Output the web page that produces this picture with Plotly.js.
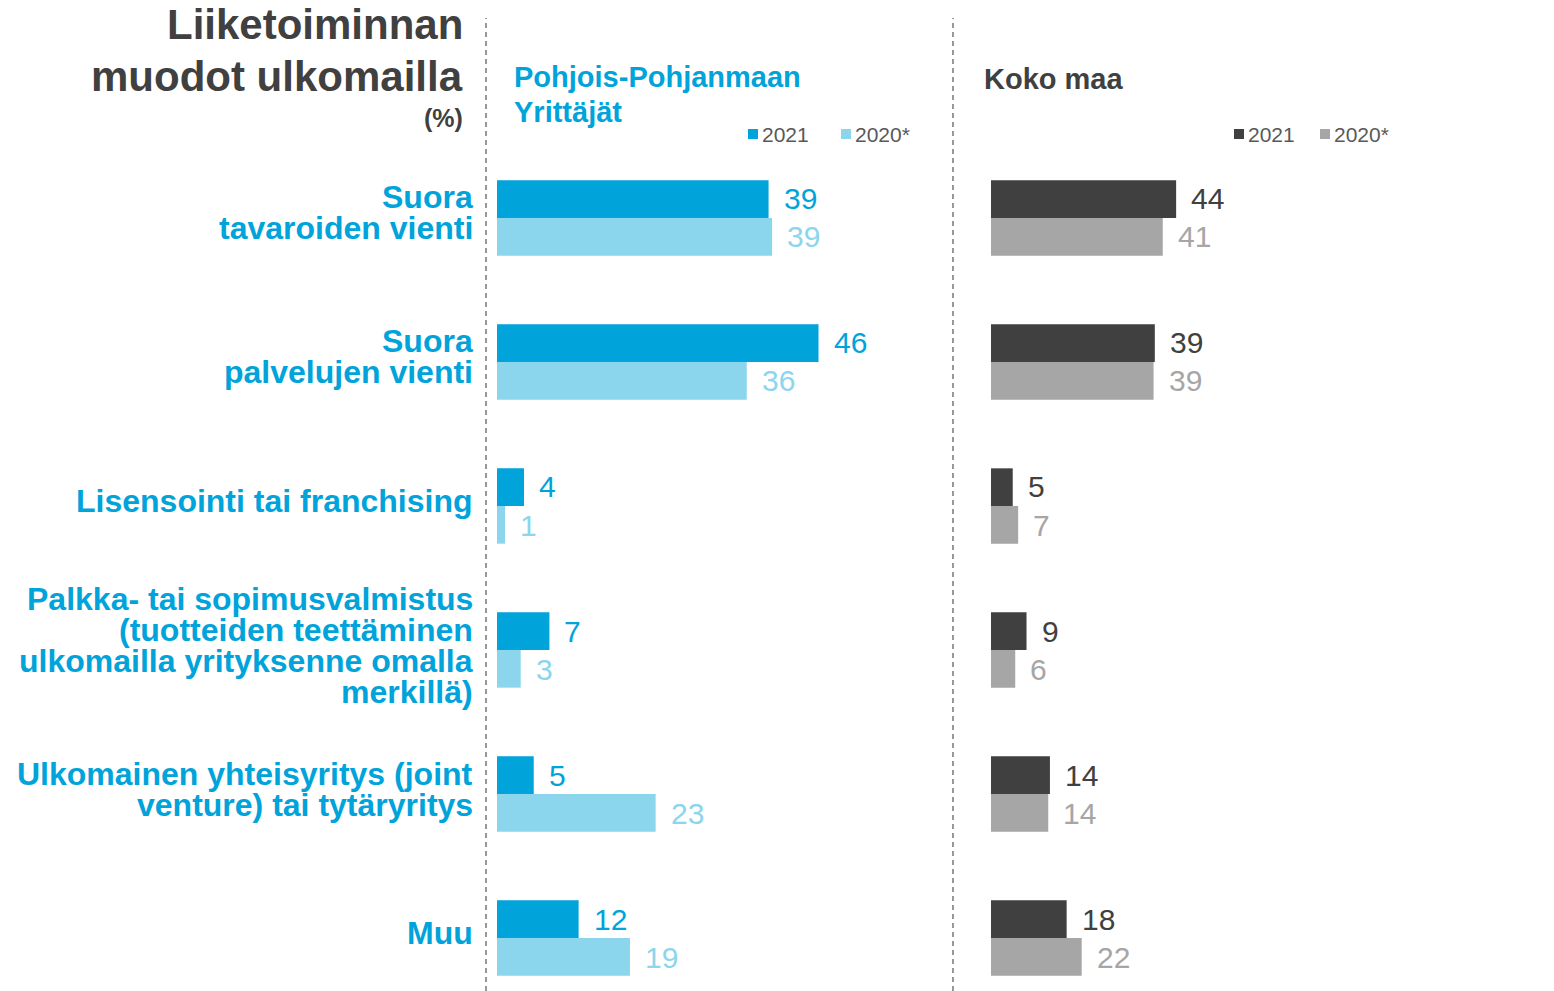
<!DOCTYPE html>
<html>
<head>
<meta charset="utf-8">
<script src="https://cdn.plot.ly/plotly-3.0.1.min.js"></script>
<style>html,body{margin:0;padding:0;background:#fff;}#chart{width:1554px;height:991px;}</style>
</head>
<body>
<div id="chart"></div>
<script>
// ---- data ----
const categories = [
  'Suora<br>tavaroiden vienti',
  'Suora<br>palvelujen vienti',
  'Lisensointi tai franchising',
  'Palkka- tai sopimusvalmistus<br>(tuotteiden teettäminen<br>ulkomailla yrityksenne omalla<br>merkillä)',
  'Ulkomainen yhteisyritys (joint<br>venture) tai tytäryritys',
  'Muu'
];
const seriesNames = ['2021', '2020*'];
const ppy2021 = [38.6, 45.7, 3.84, 7.45, 5.22, 11.6];
const ppy2020 = [39.1, 35.5, 1.14, 3.37, 22.55, 18.9];
const koko2021 = [44.3, 39.2, 5.2, 8.5, 14.1, 18.1];
const koko2020 = [41.1, 38.9, 6.5, 5.8, 13.7, 21.7];
const mainTitle = ['Liiketoiminnan', 'muodot ulkomailla'];
const unitLabel = '(%)';
const leftTitle = ['Pohjois-Pohjanmaan', 'Yrittäjät'];
const rightTitle = 'Koko maa';

// ---- styles ----
const W = 1554, H = 991;
const FONT = 'Liberation Sans, Arial, Helvetica, sans-serif';
const C_BLUE = '#00A3DA', C_LBLUE = '#8BD5ED', C_DARK = '#404040', C_GREY = '#A6A6A6';
const px = v => v / W;
const py = v => 1 - v / H;

const traces = [
  {name: seriesNames[0], x: ppy2021, xaxis: 'x', offsetgroup: 'a'},
  {name: seriesNames[1], x: ppy2020, xaxis: 'x', offsetgroup: 'b'},
  {name: seriesNames[0], x: koko2021, xaxis: 'x2', offsetgroup: 'a'},
  {name: seriesNames[1], x: koko2020, xaxis: 'x2', offsetgroup: 'b'}
].map((t, i) => Object.assign(t, {
  type: 'bar', orientation: 'h', y: categories, yaxis: 'y', showlegend: false, hoverinfo: 'x+y',
  marker: {color: [C_BLUE, C_LBLUE, C_DARK, C_GREY][i], line: {width: 0}}
}));

const annotations = [];
const shapes = [];

// value labels
const valueSets = [
  {vals: ppy2021, xref: 'x', shift: 19, color: C_BLUE},
  {vals: ppy2020, xref: 'x', shift: -19, color: C_LBLUE},
  {vals: koko2021, xref: 'x2', shift: 19, color: C_DARK},
  {vals: koko2020, xref: 'x2', shift: -19, color: C_GREY}
];
valueSets.forEach(s => {
  s.vals.forEach((v, i) => {
    annotations.push({
      x: v, y: i, xref: s.xref, yref: 'y', text: String(Math.round(v)),
      xanchor: 'left', yanchor: 'middle', xshift: 13, yshift: s.shift,
      showarrow: false, font: {family: FONT, size: 30, color: s.color}
    });
  });
});

// category labels (one annotation per line for tight line spacing)
categories.forEach((c, i) => {
  const lines = c.split('<br>');
  const n = lines.length;
  lines.forEach((ln, k) => {
    annotations.push({
      x: px(474), y: i, xref: 'paper', yref: 'y', text: ln,
      xanchor: 'right', yanchor: 'middle', yshift: -((k - (n - 1) / 2) * 31) + 5,
      showarrow: false, borderpad: 0,
      font: {family: FONT, size: 32, color: C_BLUE, weight: 'bold'}
    });
  });
});

// main title
const mainY = [25, 77];
mainTitle.forEach((t, k) => annotations.push({
  x: px(465), y: py(mainY[k]), xref: 'paper', yref: 'paper', text: '<b>' + t + '</b>',
  xanchor: 'right', yanchor: 'middle', showarrow: false,
  font: {family: FONT, size: 42, color: C_DARK}
}));
annotations.push({
  x: px(465), y: py(118), xref: 'paper', yref: 'paper', text: '<b>' + unitLabel + '</b>',
  xanchor: 'right', yanchor: 'middle', showarrow: false,
  font: {family: FONT, size: 25, color: C_DARK}
});
// panel titles
const leftY = [77, 112];
leftTitle.forEach((t, k) => annotations.push({
  x: px(512), y: py(leftY[k]), xref: 'paper', yref: 'paper', text: '<b>' + t + '</b>',
  xanchor: 'left', yanchor: 'middle', showarrow: false,
  font: {family: FONT, size: 29, color: C_BLUE}
}));
annotations.push({
  x: px(982), y: py(79), xref: 'paper', yref: 'paper', text: '<b>' + rightTitle + '</b>',
  xanchor: 'left', yanchor: 'middle', showarrow: false,
  font: {family: FONT, size: 29, color: C_DARK}
});

// custom legends
const legendItems = [
  {sq: 748, color: C_BLUE, name: seriesNames[0]},
  {sq: 841, color: C_LBLUE, name: seriesNames[1]},
  {sq: 1234, color: C_DARK, name: seriesNames[0]},
  {sq: 1320, color: C_GREY, name: seriesNames[1]}
];
legendItems.forEach(it => {
  shapes.push({type: 'rect', xref: 'paper', yref: 'paper',
    x0: px(it.sq), x1: px(it.sq + 10), y0: py(139), y1: py(129),
    fillcolor: it.color, line: {width: 0}});
  annotations.push({
    x: px(it.sq + 12), y: py(134), xref: 'paper', yref: 'paper', text: it.name,
    xanchor: 'left', yanchor: 'middle', showarrow: false,
    font: {family: FONT, size: 21, color: '#595959'}
  });
});

// dashed separators
[486, 953].forEach(xv => shapes.push({
  type: 'line', xref: 'paper', yref: 'paper', x0: px(xv), x1: px(xv), y0: 0, y1: py(18),
  line: {color: '#7F7F7F', width: 1.6, dash: '5px,4px'}
}));

const layout = {
  width: W, height: H,
  margin: {l: 0, r: 0, t: 0, b: 0},
  paper_bgcolor: '#fff', plot_bgcolor: 'rgba(0,0,0,0)',
  barmode: 'group', bargap: 0.477, bargroupgap: 0,
  showlegend: false,
  font: {family: FONT},
  xaxis: {domain: [px(497), px(917)], range: [0, 59.7], visible: false, fixedrange: true},
  xaxis2: {domain: [px(991), px(1411)], range: [0, 100.5], visible: false, fixedrange: true},
  // top at -0.5, one category = 144 px over the (991-146) px plot height
  yaxis: {domain: [0, py(146)], range: [-0.5 + (991 - 146) / 144, -0.5],
          showticklabels: false, showgrid: false, zeroline: false, showline: false, ticks: '', fixedrange: true},
  annotations: annotations,
  shapes: shapes
};

Plotly.newPlot('chart', traces, layout, {displayModeBar: false, staticPlot: true});
</script>
</body>
</html>
